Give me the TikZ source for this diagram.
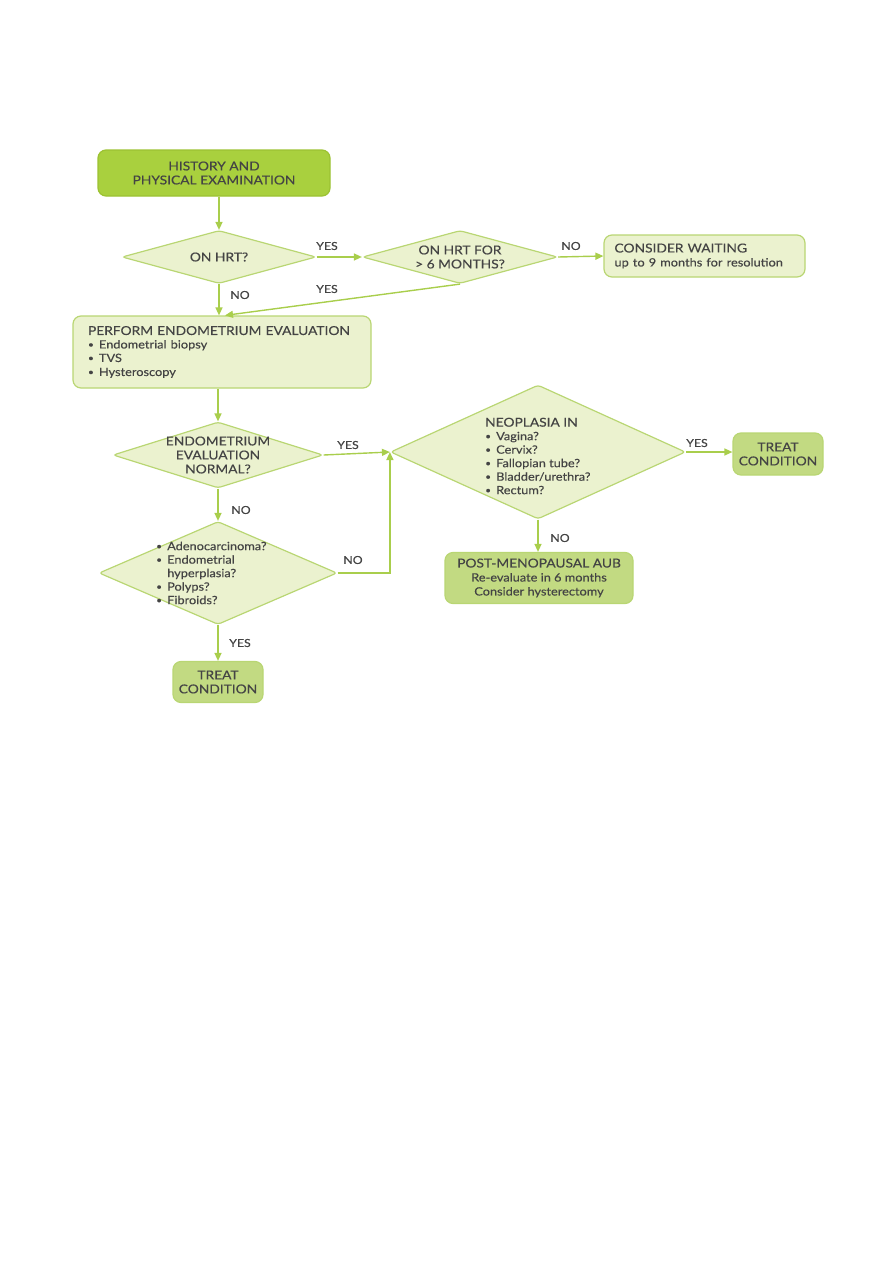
\documentclass[tikz,border=0pt]{standalone}
\usepackage{fontspec}
\setmainfont{Lato}[FakeStretch=1.12,FakeBold=0.3]
\usetikzlibrary{shapes.geometric,arrows.meta,calc}
\definecolor{edgec}{HTML}{B9D673}
\definecolor{palec}{HTML}{EBF2CF}
\definecolor{brightc}{HTML}{A9D03E}
\definecolor{brightedge}{HTML}{9CC232}
\definecolor{treatc}{HTML}{C2DA82}
\definecolor{linec}{HTML}{A9CE4C}
\definecolor{txtc}{HTML}{444444}
\newcommand{\bul}{\makebox[11pt][l]{\raisebox{0.15ex}{\fontsize{9}{9}\selectfont•}}}
\newcommand{\capsz}{\fontsize{12.3}{14}\selectfont}
\newcommand{\lowsz}{\fontsize{11.4}{13.5}\selectfont}
\begin{document}
\begin{tikzpicture}[x=1pt,y=1pt,
  every node/.style={text=txtc},
  boxstyle/.style={draw=edgec,fill=palec,rounded corners=8pt,line width=1.2pt,inner sep=0pt,font=\capsz},
  topbox/.style={boxstyle,fill=brightc,draw=brightedge},
  treatbox/.style={boxstyle,fill=treatc,draw=edgec,align=center},
  dia/.style={diamond,draw=edgec,fill=palec,line width=1.2pt,inner sep=0pt,rounded corners=3pt},
  dtext/.style={font=\capsz,align=center,inner sep=0pt},
  ltext/.style={font=\lowsz,align=left,inner sep=0pt,anchor=west},
  lab/.style={font=\fontsize{11}{12}\selectfont,inner sep=0pt},
  arr/.style={draw=linec,line width=1.4pt,-{Triangle[length=8pt,width=7pt]}},
  ln/.style={draw=linec,line width=1.4pt}
]
\useasboundingbox (0,0) rectangle (893,-1263);

% nodes
\node[topbox,minimum width=232pt,minimum height=46pt,align=center] (hist) at (214,-173) {HISTORY AND\\PHYSICAL EXAMINATION};

\node[dia,minimum width=194pt,minimum height=53pt] (d1) at (219,-257) {};
\node[dtext] (d1t) at (d1.center) {ON HRT?};

\node[dia,minimum width=195pt,minimum height=53pt] (d2) at (460,-257) {};
\node[dtext] (d2t) at (d2.center) {ON HRT FOR\\> 6 MONTHS?};

\node[boxstyle,minimum width=201pt,minimum height=42pt,text width=180pt,align=left,inner xsep=10.5pt] (wait) at (704.5,-256) {CONSIDER WAITING\\{\lowsz up to 9 months for resolution}};

\node[boxstyle,minimum width=298pt,minimum height=72pt,text width=268pt,align=left,inner xsep=15pt] (eval) at (222,-352) {PERFORM ENDOMETRIUM EVALUATION\\{\lowsz\bul Endometrial biopsy\\\bul TVS\\\bul Hysteroscopy}};

\node[dia,minimum width=210pt,minimum height=66pt] (d3) at (218,-455) {};
\node[dtext] (d3t) at (d3.center) {ENDOMETRIUM\\EVALUATION\\NORMAL?};

\node[dia,minimum width=295pt,minimum height=134pt] (neo) at (538,-452) {};
\node[ltext] (neot) at ($(neo.center)+(-53,-4)$) {{\capsz NEOPLASIA IN}\\\bul Vagina?\\\bul Cervix?\\\bul Fallopian tube?\\\bul Bladder/urethra?\\\bul Rectum?};

\node[treatbox,minimum width=90pt,minimum height=42pt] (treat1) at (778,-454) {TREAT\\CONDITION};

\node[boxstyle,fill=treatc,minimum width=188pt,minimum height=51pt,align=center] (post) at (539,-578) {POST-MENOPAUSAL AUB\\{\lowsz Re-evaluate in 6 months}\\{\lowsz Consider hysterectomy}};

\node[dia,minimum width=238pt,minimum height=103pt] (d4) at (218,-573) {};
\node[ltext] (d4t) at ($(d4.center)+(-62,0)$) {\bul Adenocarcinoma?\\\bul Endometrial\\\hspace*{11pt}hyperplasia?\\\bul Polyps?\\\bul Fibroids?};

\node[treatbox,minimum width=90pt,minimum height=41pt] (treat2) at (218,-682) {TREAT\\CONDITION};

% connectors
\draw[arr] (hist.south -| d1.north) -- (d1.north);
\draw[arr] (d1.east) -- (d2.west);
\node[lab] (y1) at (327,-246) {YES};
\draw[arr] (d2.east) -- (wait.west);
\node[lab] (n1) at (571,-246) {NO};
\coordinate (evtop) at ($(eval.north)+(3,0)$);
\draw[arr] (d2.south) -- (evtop);
\node[lab] (y2) at (327,-289) {YES};
\draw[arr] (d1.south) -- (d1.south |- eval.north);
\node[lab] (n2) at (240,-295) {NO};
\draw[arr] (eval.south -| d3.north) -- (d3.north);
\draw[arr] (d3.east) -- (neo.west);
\node[lab] (y3) at (348,-445) {YES};
\draw[arr] (d3.south) -- (d4.north);
\node[lab] (n3) at (241,-510) {NO};
\draw[arr] (d4.east) -- (d4.east -| neo.west) -- (neo.west);
\node[lab] (n4) at (353,-560) {NO};
\draw[arr] (d4.south) -- (treat2.north);
\node[lab] (y4) at (240,-643) {YES};
\draw[arr] (neo.east) -- (neo.east -| treat1.west);
\node[lab] (y5) at (697,-443) {YES};
\draw[arr] (neo.south) -- (neo.south |- post.north);
\node[lab] (n5) at (560,-538) {NO};
\end{tikzpicture}
\end{document}
